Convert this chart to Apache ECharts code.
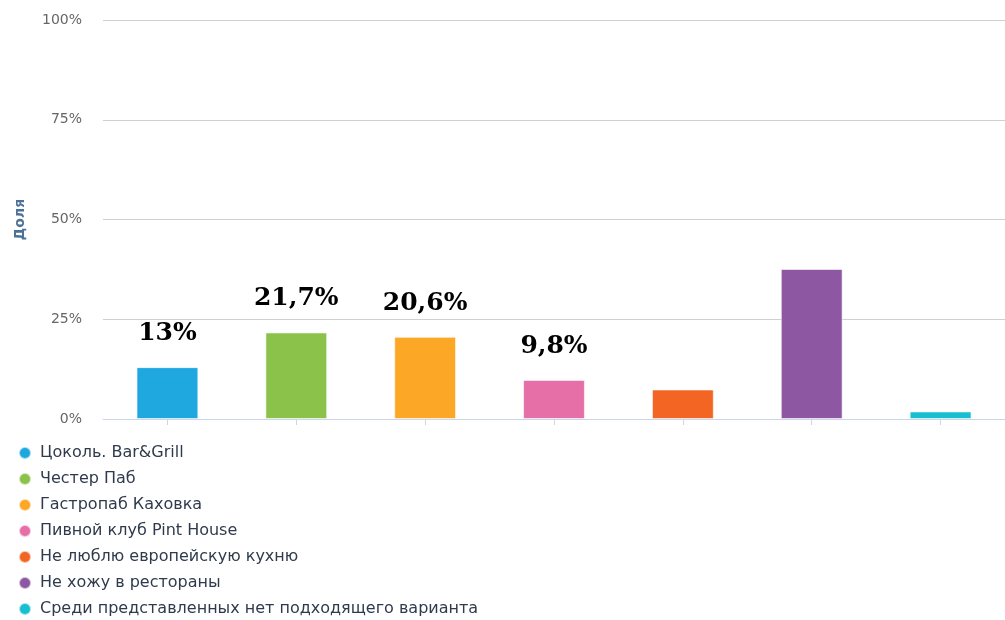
<!DOCTYPE html>
<html>
<head>
<meta charset="utf-8">
<script src="https://cdn.jsdelivr.net/npm/echarts@6/dist/echarts.min.js"></script>
<style>html,body{margin:0;padding:0;background:#fff;}#c{width:1005px;height:620px;}</style>
</head>
<body>
<div id="c"></div>
<script>
var categories = ['Цоколь. Bar&Grill', 'Честер Паб', 'Гастропаб Каховка', 'Пивной клуб Pint House', 'Не люблю европейскую кухню', 'Не хожу в рестораны', 'Среди представленных нет подходящего варианта'];
var values = [13, 21.7, 20.6, 9.8, 7.4, 37.6, 1.9];
var labelTexts = ['13%', '21,7%', '20,6%', '9,8%', '', '', ''];
var colors = ['#1fa8e0', '#8bc34a', '#fca726', '#e76fa8', '#f26522', '#8e57a2', '#18bfd0'];
var yTicks = [0, 25, 50, 75, 100];

var chart = echarts.init(document.getElementById('c'), null, {renderer: 'canvas'});
var series = categories.map(function (name, i) {
  var d = categories.map(function (c, j) { return j === i ? values[i] : '-'; });
  return {
    name: name,
    type: 'bar',
    stack: 'all',
    barWidth: '48%',
    data: d,
    itemStyle: {color: colors[i], borderColor: 'rgba(255,255,255,0.6)', borderWidth: 1},
    label: {
      show: labelTexts[i] !== '',
      position: 'top',
      distance: 21,
      formatter: function () { return labelTexts[i]; },
      fontFamily: 'DejaVu Serif',
      fontWeight: 'bold',
      fontSize: 25,
      color: '#000'
    }
  };
});

chart.setOption({
  animation: false,
  color: colors,
  grid: {left: 103, top: 20, width: 904, height: 399, containLabel: false},
  legend: {
    orient: 'vertical',
    left: 13,
    top: 440,
    height: 200,
    icon: 'circle',
    itemWidth: 12,
    itemHeight: 12,
    itemGap: 10,
    selectedMode: false,
    data: categories,
    textStyle: {fontFamily: 'DejaVu Sans', fontSize: 16, color: '#2f3b4c', padding: [0, 0, 0, 4]}
  },
  xAxis: {
    type: 'category',
    data: categories,
    axisLine: {lineStyle: {color: '#ccd6eb'}},
    axisTick: {show: true, alignWithLabel: true, interval: 0, length: 6, lineStyle: {color: '#ccd6eb'}},
    axisLabel: {show: false, interval: 0}
  },
  yAxis: {
    type: 'value',
    min: 0,
    max: 100,
    interval: 25,
    name: 'Доля',
    nameLocation: 'middle',
    nameGap: 76,
    nameTextStyle: {fontFamily: 'DejaVu Sans', fontWeight: 'bold', fontSize: 14, color: '#4d7199'},
    axisLine: {show: false},
    axisTick: {show: false},
    axisLabel: {
      margin: 21,
      fontFamily: 'DejaVu Sans',
      fontSize: 14,
      color: '#666',
      formatter: function (v) { return yTicks.indexOf(v) >= 0 ? v + '%' : ''; }
    },
    splitLine: {lineStyle: {color: '#d0d0d0'}}
  },
  series: series
});
</script>
</body>
</html>
